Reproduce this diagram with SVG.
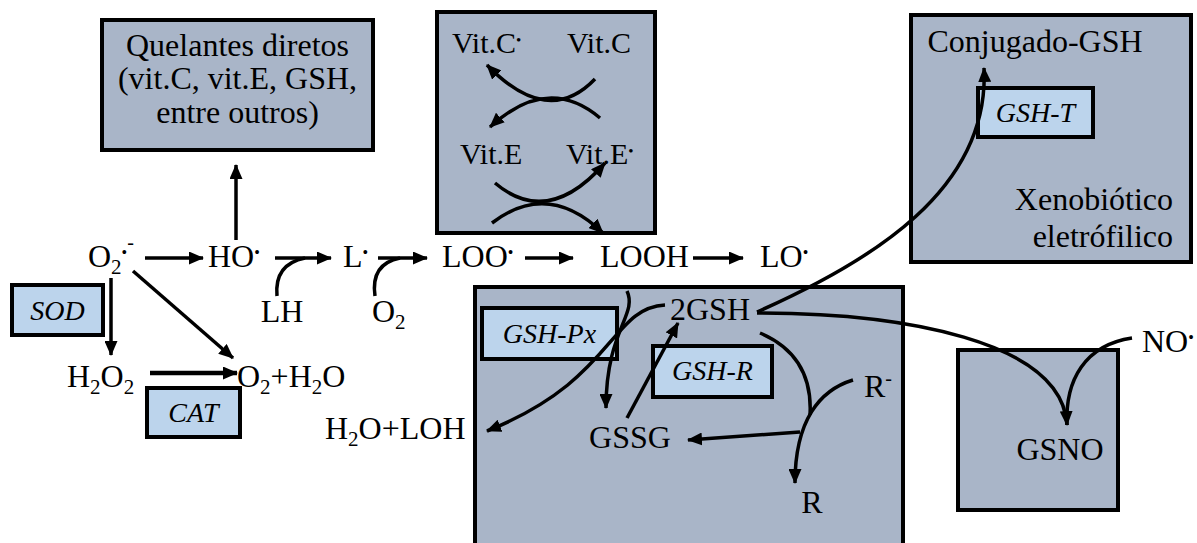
<svg xmlns="http://www.w3.org/2000/svg" width="1197" height="543" viewBox="0 0 1197 543" font-family="Times New Roman">
<defs>
  <marker id="ah" markerUnits="userSpaceOnUse" markerWidth="15" markerHeight="13" refX="14" refY="6.5" orient="auto">
    <path d="M0,0 L15,6.5 L0,13 z" fill="#000"/>
  </marker>
</defs>
<rect width="1197" height="543" fill="#fff"/>

<g id="quelantes">
  <rect fill="#a9b5c8" stroke="#000" stroke-width="4" x="102" y="20" width="271" height="130"/>
  <text font-family="Times New Roman" font-size="32" text-anchor="middle" x="237.5" y="56">Quelantes diretos</text>
  <text font-family="Times New Roman" font-size="32" text-anchor="middle" x="237.5" y="89">(vit.C, vit.E, GSH,</text>
  <text font-family="Times New Roman" font-size="32" text-anchor="middle" x="237.5" y="123">entre outros)</text>
</g>

<g id="vitaminas">
  <rect fill="#a9b5c8" stroke="#000" stroke-width="4" x="437" y="12" width="218" height="221"/>
  <text font-family="Times New Roman" font-size="30" x="452" y="53">Vit.C<tspan font-size="15" dy="-8">•</tspan></text>
  <text font-family="Times New Roman" font-size="30" x="567" y="53">Vit.C</text>
  <text font-family="Times New Roman" font-size="30" x="460" y="164">Vit.E</text>
  <text font-family="Times New Roman" font-size="30" x="566" y="164">Vit.E<tspan font-size="15" dy="-8">•</tspan></text>
</g>

<g id="conjugado">
  <rect fill="#a9b5c8" stroke="#000" stroke-width="4" x="911" y="15" width="280" height="247"/>
  <text font-family="Times New Roman" font-size="32" text-anchor="middle" x="1035" y="52">Conjugado-GSH</text>
  <text font-family="Times New Roman" font-size="32" text-anchor="end" x="1173" y="210">Xenobiótico</text>
  <text font-family="Times New Roman" font-size="32" text-anchor="end" x="1173" y="247">eletrófilico</text>
</g>

<g id="gsh-t">
  <rect fill="#bcd4ec" stroke="#000" stroke-width="4" x="978" y="88" width="115" height="49"/>
  <text font-family="Times New Roman" font-size="28" font-style="italic" text-anchor="middle" x="1035.5" y="122">GSH-T</text>
</g>

<g id="glutationa">
  <rect fill="#a9b5c8" stroke="#000" stroke-width="4" x="475" y="287" width="428" height="275"/>
  <text font-family="Times New Roman" font-size="32" text-anchor="middle" x="710" y="320">2GSH</text>
  <text font-family="Times New Roman" font-size="32" text-anchor="middle" x="630" y="448">GSSG</text>
  <text font-family="Times New Roman" font-size="32" text-anchor="middle" x="812" y="513">R</text>
  <text font-family="Times New Roman" font-size="32" x="864" y="397">R<tspan font-size="20" dy="-12">-</tspan></text>
</g>

<g id="gsh-px">
  <rect fill="#bcd4ec" stroke="#000" stroke-width="4" x="482" y="308" width="135" height="51"/>
  <text font-family="Times New Roman" font-size="28" font-style="italic" text-anchor="middle" x="549.5" y="343">GSH-Px</text>
</g>

<g id="gsh-r">
  <rect fill="#bcd4ec" stroke="#000" stroke-width="4" x="653" y="346" width="119" height="51"/>
  <text font-family="Times New Roman" font-size="28" font-style="italic" text-anchor="middle" x="712.5" y="380">GSH-R</text>
</g>

<g id="gsno">
  <rect fill="#a9b5c8" stroke="#000" stroke-width="4" x="958" y="350" width="160" height="160"/>
  <text font-family="Times New Roman" font-size="32" text-anchor="middle" x="1060" y="460">GSNO</text>
</g>

<g id="no">
  <text font-family="Times New Roman" font-size="32" x="1142" y="352">NO<tspan font-size="16" dy="-9">•</tspan></text>
</g>

<g id="sod">
  <rect fill="#bcd4ec" stroke="#000" stroke-width="4" x="12" y="285" width="91" height="50"/>
  <text font-family="Times New Roman" font-size="28" font-style="italic" text-anchor="middle" x="57.5" y="320">SOD</text>
</g>

<g id="cat">
  <rect fill="#bcd4ec" stroke="#000" stroke-width="4" x="147" y="388" width="93" height="49"/>
  <text font-family="Times New Roman" font-size="28" font-style="italic" text-anchor="middle" x="193.5" y="422">CAT</text>
</g>

<g id="especies">
  <text font-family="Times New Roman" font-size="32" x="88" y="267">O<tspan font-size="21" dy="7">2</tspan><tspan font-size="16" dy="-16">•</tspan><tspan font-size="20" dy="-9">-</tspan></text>
  <text font-family="Times New Roman" font-size="32" x="208" y="267">HO<tspan font-size="16" dy="-9">•</tspan></text>
  <text font-family="Times New Roman" font-size="32" x="343" y="267">L<tspan font-size="16" dy="-9">•</tspan></text>
  <text font-family="Times New Roman" font-size="32" x="442" y="267">LOO<tspan font-size="16" dy="-9">•</tspan></text>
  <text font-family="Times New Roman" font-size="32" x="600" y="267">LOOH</text>
  <text font-family="Times New Roman" font-size="32" x="760" y="267">LO<tspan font-size="16" dy="-9">•</tspan></text>
  <text font-family="Times New Roman" font-size="32" text-anchor="middle" x="282" y="322">LH</text>
  <text font-family="Times New Roman" font-size="32" x="372" y="322">O<tspan font-size="21" dy="7">2</tspan></text>
  <text font-family="Times New Roman" font-size="32" x="67" y="387">H<tspan font-size="21" dy="7">2</tspan><tspan dy="-7">O</tspan><tspan font-size="21" dy="7">2</tspan></text>
  <text font-family="Times New Roman" font-size="32" x="237" y="387">O<tspan font-size="21" dy="7">2</tspan><tspan dy="-7">+H</tspan><tspan font-size="21" dy="7">2</tspan><tspan dy="-7">O</tspan></text>
  <text font-family="Times New Roman" font-size="32" x="325" y="439">H<tspan font-size="21" dy="7">2</tspan><tspan dy="-7">O+LOH</tspan></text>
</g>

<g id="connectors" fill="none" stroke="#000" stroke-width="3.5">
  <line x1="236" y1="240" x2="236" y2="165" marker-end="url(#ah)"/>
  <line x1="145" y1="258" x2="203" y2="258" marker-end="url(#ah)"/>
  <line x1="275" y1="258" x2="331" y2="258" marker-end="url(#ah)"/>
  <line x1="378" y1="258" x2="427" y2="258" marker-end="url(#ah)"/>
  <line x1="525" y1="258" x2="573" y2="258" marker-end="url(#ah)"/>
  <line x1="693" y1="258" x2="743" y2="258" marker-end="url(#ah)"/>
  <path d="M277,296 C275,274 285,262 305,258"/>
  <path d="M375,296 C372,275 380,262 400,258"/>
  <line x1="111" y1="278" x2="111" y2="355" marker-end="url(#ah)"/>
  <line x1="133" y1="271" x2="233" y2="358" marker-end="url(#ah)"/>
  <line stroke-width="4.5" x1="150" y1="373" x2="237" y2="373" marker-end="url(#ah)"/>
  <path d="M595,79 Q548,128 487,65" marker-end="url(#ah)"/>
  <path d="M600,118 Q548,74 490,127" marker-end="url(#ah)"/>
  <path d="M495,183 Q548,228 605,163" marker-end="url(#ah)"/>
  <path d="M492,223 Q548,180 603,233" marker-end="url(#ah)"/>
  <path d="M757,312 C870,262 990,190 984,68" marker-end="url(#ah)"/>
  <path d="M757,313 C900,313 1062,340 1067,425" marker-end="url(#ah)"/>
  <path d="M1132,338 C1085,345 1065,380 1067,425"/>
  <path d="M665,305 C610,308 615,380 487,431" marker-end="url(#ah)"/>
  <path d="M627,291 C638,315 606,330 606,408" marker-end="url(#ah)"/>
  <line x1="627" y1="418" x2="678" y2="323" marker-end="url(#ah)"/>
  <path d="M760,333 C800,350 812,380 810,415"/>
  <path d="M853,380 C820,390 795,420 795,483" marker-end="url(#ah)"/>
  <line x1="800" y1="432" x2="688" y2="440" marker-end="url(#ah)"/>
</g>
</svg>
